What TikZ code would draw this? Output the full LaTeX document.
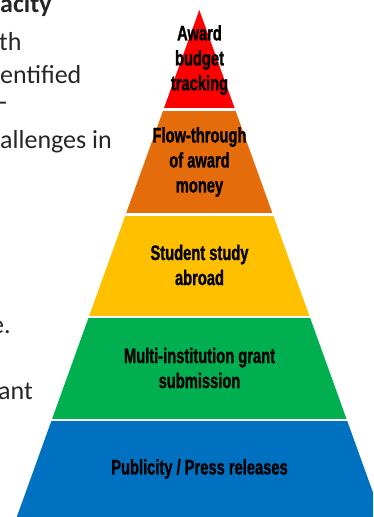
\documentclass[tikz,border=0pt]{standalone}
\usepackage{fontspec}
\setmainfont{Carlito}
\newfontfamily\narrowfont[FakeStretch=0.7,FakeBold=1.2]{Liberation Sans Bold}
\definecolor{cred}{HTML}{FF0000}
\definecolor{corange}{HTML}{E46C0A}
\definecolor{cyellow}{HTML}{FFC000}
\definecolor{cgreen}{HTML}{00B050}
\definecolor{cblue}{HTML}{0070C0}
\definecolor{ctext}{HTML}{262626}
\tikzset{
  layertext/.style={align=center, inner sep=0pt, text=black,
    font=\narrowfont\fontsize{21}{25}\selectfont},
  sidetext/.style={anchor=base west, inner sep=0pt, text=ctext,
    font=\fontsize{26}{32}\selectfont},
  gapline/.style={draw=white, line width=2.5pt}
}
\begin{document}
\begin{tikzpicture}[x=1pt,y=-1pt]
\useasboundingbox (0,0) rectangle (373,517);
\clip (0,0) rectangle (373,517);
% pyramid layers
\fill[cred]    (199.3,10) -- (235.1,109.5) -- (163.5,109.5) -- cycle;
\fill[corange] (163.5,109.5) -- (235.1,109.5) -- (272.9,214.5) -- (125.7,214.5) -- cycle;
\fill[cyellow] (125.7,214.5) -- (272.9,214.5) -- (309.8,317) -- (88.8,317) -- cycle;
\fill[cgreen]  (88.8,317) -- (309.8,317) -- (346.9,420) -- (51.7,420) -- cycle;
\fill[cblue]   (51.7,420) -- (346.9,420) -- (390.1,540) -- (8.5,540) -- cycle;
% white separators
\draw[gapline] (140,109.5) -- (260,109.5);
\draw[gapline] (100,214.5) -- (300,214.5);
\draw[gapline] (60,317) -- (340,317);
\draw[gapline] (20,420) -- (380,420);
% layer labels
\node[layertext] (l1) at (199.5,60) {Award\\budget\\tracking};
\node[layertext] (l2) at (199.5,162) {Flow-through\\of award\\money};
\node[layertext] (l3) at (199.5,265) {Student study\\abroad};
\node[layertext] (l4) at (199.5,368) {Multi-institution grant\\submission};
\node[layertext] (l5) at (199.5,469) {Publicity / Press releases};
% clipped side text
\node[sidetext, font=\bfseries\fontsize{26}{32}\selectfont] (s0) at (-14,12) {pacity};
\node[sidetext] (s1) at (-1,50) {th};
\node[sidetext] (s2) at (0,83) {entified};
\node[sidetext] (s3) at (-1,110) {-};
\node[sidetext] (s4) at (0,148) {allenges in};
\node[sidetext] (s5) at (-9,333) {e.};
\node[sidetext] (s6) at (-2,399) {ant};
\end{tikzpicture}
\end{document}
